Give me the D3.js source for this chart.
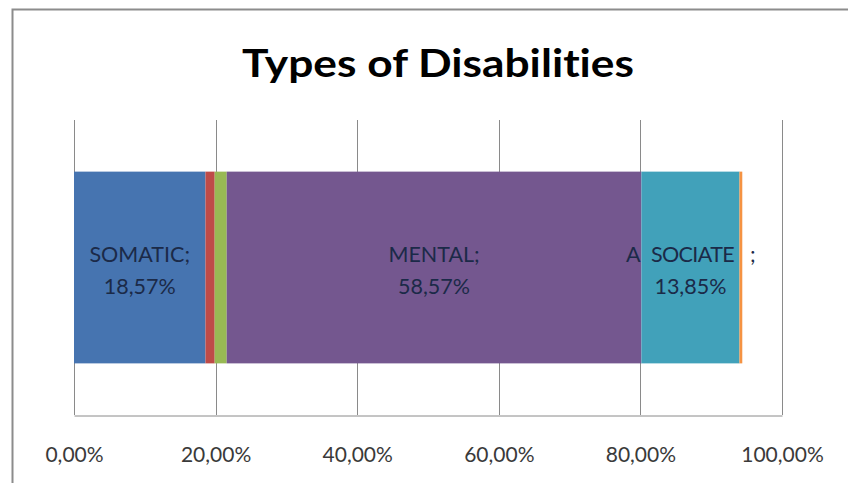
<!DOCTYPE html>
<html>
<head>
<meta charset="utf-8">
<script src="https://cdn.jsdelivr.net/npm/d3@7"></script>
<style>
  html, body { margin: 0; padding: 0; background: #fff; }
  svg { display: block; }
  text { font-variant-ligatures: none; font-feature-settings: "liga" 0, "clig" 0; }
</style>
</head>
<body>
<svg id="chart" width="848" height="483"></svg>
<script>
// Share of each disability type (percent), stacked in one bar
const categories = ["SOMATIC", "SENSORY", "PHYSICAL", "MENTAL", "ASSOCIATED", "OTHER"];
const values = [18.57, 1.3, 1.7, 58.57, 13.85, 0.4];
const colors = ["#4674B0", "#BE4B48", "#98B954", "#74578F", "#41A1BA", "#F59343"];
const showLabel = [true, false, false, true, true, false];
const tickValues = [0, 20, 40, 60, 80, 100];
const title = "Types of Disabilities";

const fmt = v => v.toFixed(2).replace(".", ",") + "%";
const FONT = "Lato, 'Open Sans', sans-serif";

const svg = d3.select("#chart");

// outer chart frame
svg.append("rect")
  .attr("x", 12.5).attr("y", 9.5)
  .attr("width", 900).attr("height", 520)
  .attr("fill", "#fff")
  .attr("stroke", "#8c8c8c").attr("stroke-width", 2);

const plot = { left: 74, right: 782, top: 120, bottom: 415 };
const x = d3.scaleLinear().domain([0, 100]).range([plot.left, plot.right]);
const y = d3.scaleBand().domain(["bar"]).range([plot.top, plot.bottom]).paddingInner(0.35).paddingOuter(0.175);

// title, fitted to the width of the header
svg.append("text")
  .attr("x", 438).attr("y", 77)
  .attr("text-anchor", "middle")
  .attr("font-family", FONT)
  .attr("font-weight", "bold")
  .attr("font-size", 39)
  .attr("fill", "#000")
  .attr("textLength", 392)
  .attr("lengthAdjust", "spacingAndGlyphs")
  .text(title);

// vertical gridlines
svg.append("g")
  .selectAll("line")
  .data(tickValues)
  .join("line")
  .attr("x1", d => Math.round(x(d)) + 0.5).attr("x2", d => Math.round(x(d)) + 0.5)
  .attr("y1", plot.top).attr("y2", plot.bottom)
  .attr("stroke", "#8a8a8a").attr("stroke-width", 1);

// bottom axis
const axis = d3.axisBottom(x).tickValues(tickValues).tickSize(0).tickPadding(0)
  .tickFormat(d => fmt(d));
const gAxis = svg.append("g")
  .attr("transform", `translate(0,${plot.bottom + 0.5})`)
  .call(axis);
gAxis.select(".domain").attr("stroke", "#8a8a8a");
gAxis.selectAll("text")
  .attr("y", 46.5)
  .attr("dy", 0)
  .attr("font-family", FONT)
  .attr("font-size", 21)
  .attr("fill", "#3a3a3a");

// stacked segments
let acc = 0;
const segs = values.map((v, i) => {
  const s = { cat: categories[i], value: v, start: acc, end: acc + v, color: colors[i], label: showLabel[i] };
  acc += v;
  return s;
});

const bandY = y("bar");
const bandH = y.bandwidth();

svg.append("g")
  .selectAll("rect")
  .data(segs)
  .join("rect")
  .attr("x", d => x(d.start))
  .attr("y", bandY)
  .attr("width", d => x(d.end) - x(d.start))
  .attr("height", bandH)
  .attr("fill", d => d.color);

// data labels: "CATEGORY;" over "value%"
const labels = svg.append("g")
  .attr("font-family", FONT)
  .attr("font-size", 21.5)
  .attr("fill", "#1b2a48")
  .attr("text-anchor", "middle");

segs.filter(d => d.label).forEach(d => {
  const cx = (x(d.start) + x(d.end)) / 2;
  const t1 = labels.append("text").attr("x", cx).attr("y", 262);
  if (d.cat === "ASSOCIATED") {
    // the second S and the D are lost against the neighbouring segments
    t1.attr("letter-spacing", -0.6);
    const parts = [["A", 1], ["S", 0], ["SOCIATE", 1], ["D", 0], [";", 1]];
    parts.forEach(([s, vis]) => t1.append("tspan").attr("fill-opacity", vis).text(s));
  } else {
    t1.text(d.cat + ";");
  }
  labels.append("text").attr("x", cx).attr("y", 294).text(fmt(d.value));
});
</script>
</body>
</html>
